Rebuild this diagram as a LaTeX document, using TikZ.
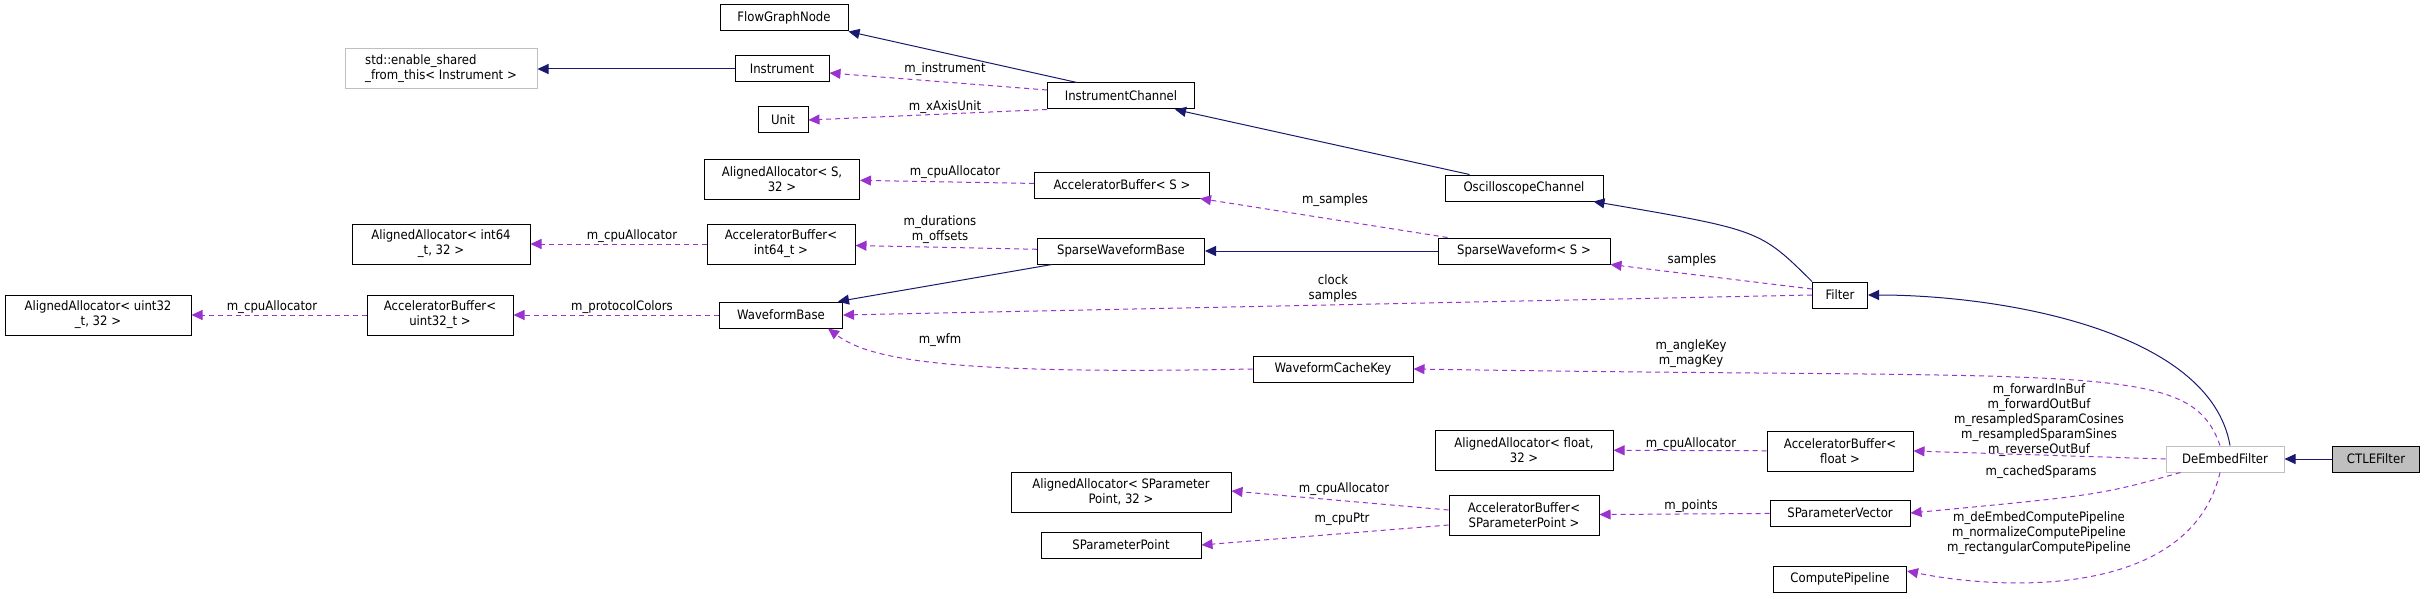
\documentclass[tikz,border=0pt]{standalone}
\usepackage{fontspec}
\setmainfont{DejaVu Sans Condensed}
\usetikzlibrary{arrows.meta}
\definecolor{inh}{HTML}{191970}
\definecolor{use}{HTML}{9A32CD}
\begin{document}
\begin{tikzpicture}[x=1pt,y=-1pt,
  every node/.style={font=\fontsize{13}{15}\selectfont},
  box/.style={draw=black,line width=1pt,fill=white,inner sep=0pt,minimum height=26pt,align=center},
  gbox/.style={box,draw=black!25},
  inhe/.style={draw=inh,line width=1pt,-{Triangle[length=11pt,width=10pt]}},
  usee/.style={draw=use,line width=1pt,dash pattern=on 5pt off 4pt,-{Triangle[length=11pt,width=10pt]}},
  lab/.style={align=center,inner sep=0pt}]
\useasboundingbox (0,0) rectangle (2425,599);
\node[box,minimum width=128pt] (fgn) at (784,18) {FlowGraphNode};
\node[gbox,minimum width=192pt,minimum height=40pt,align=left] (esf) at (441,69) {std::enable\_shared\\\_from\_this< Instrument >};
\node[box,minimum width=94pt] (ins) at (782,69) {Instrument};
\node[box,minimum width=50pt] (unit) at (783,120) {Unit};
\node[box,minimum width=147pt] (ich) at (1121,96) {InstrumentChannel};
\node[box,minimum width=158pt] (och) at (1524,188) {OscilloscopeChannel};
\node[box,minimum width=155pt,minimum height=40pt] (aas) at (782,179) {AlignedAllocator< S,\\32 >};
\node[box,minimum width=175pt] (abs) at (1122,185) {AcceleratorBuffer< S >};
\node[box,minimum width=178pt,minimum height=40pt] (aai) at (441,244) {AlignedAllocator< int64\\\_t, 32 >};
\node[box,minimum width=148pt,minimum height=40pt] (abi) at (781,244) {AcceleratorBuffer<\\int64\_t >};
\node[box,minimum width=167pt] (swb) at (1121,251) {SparseWaveformBase};
\node[box,minimum width=172pt] (sw) at (1524,251) {SparseWaveform< S >};
\node[box,minimum width=55pt] (flt) at (1840,295) {Filter};
\node[box,minimum width=186pt,minimum height=40pt] (aau) at (98,315) {AlignedAllocator< uint32\\\_t, 32 >};
\node[box,minimum width=146pt,minimum height=40pt] (abu) at (440,315) {AcceleratorBuffer<\\uint32\_t >};
\node[box,minimum width=123pt] (wb) at (781,315) {WaveformBase};
\node[box,minimum width=160pt] (wck) at (1333,369) {WaveformCacheKey};
\node[box,minimum width=178pt,minimum height=40pt] (aaf) at (1524,450) {AlignedAllocator< float,\\32 >};
\node[box,minimum width=146pt,minimum height=40pt] (abf) at (1840,451) {AcceleratorBuffer<\\float >};
\node[gbox,minimum width=118pt] (def) at (2225,459) {DeEmbedFilter};
\node[box,fill=black!25,minimum width=87pt] (ctle) at (2376,459) {CTLEFilter};
\node[box,minimum width=220pt,minimum height=40pt] (aap) at (1121,492) {AlignedAllocator< SParameter\\Point, 32 >};
\node[box,minimum width=150pt,minimum height=40pt] (abp) at (1524,515) {AcceleratorBuffer<\\SParameterPoint >};
\node[box,minimum width=140pt] (spv) at (1840,513) {SParameterVector};
\node[box,minimum width=160pt] (spp) at (1121,545) {SParameterPoint};
\node[box,minimum width=133pt] (cp) at (1840,579) {ComputePipeline};
% inheritance
\draw[inhe] (ich.north west) ++(30,0) -- (fgn.south east);
\draw[inhe] (ins) -- (esf);
\draw[inhe] (och.north west) ++(25,0) -- ([xshift=-20pt]ich.south east);
\draw[inhe] (flt.north west) .. controls (1760,230) .. ([xshift=-10pt]och.south east);
\draw[inhe] (sw) -- (swb);
\draw[inhe] (swb.south west) ++(15,0) -- ([xshift=-5pt]wb.north east);
\draw[inhe] (def.north) ++(5,0) .. controls (2210,330) and (2000,295) .. (flt.east);
\draw[inhe] (ctle) -- (def);
% usage
\draw[usee] (ich.west) ++(0,-6) -- ([yshift=-4pt]ins.east);
\draw[usee] (ich.south west) -- (unit.east);
\draw[usee] (abs) -- (aas);
\draw[usee] (sw.north west) ++(10,0) -- ([xshift=-10pt]abs.south east);
\draw[usee] (abi) -- (aai);
\draw[usee] (swb) -- (abi);
\draw[usee] (abu) -- (aau);
\draw[usee] (wb) -- (abu);
\draw[usee] (flt.west) -- (wb.east);
\draw[usee] (flt.west) ++(0,-6) -- (sw.south east);
\draw[usee] (wck.west) .. controls (950,375) and (870,360) .. ([xshift=-15pt]wb.south east);
\draw[usee] (def.north) ++(-5,0) .. controls (2190,360) and (2100,380) .. (wck.east);
\draw[usee] (def.west) -- (abf.east);
\draw[usee] (abf) -- (aaf);
\draw[usee] (def.south west) ++(15,0) .. controls (2100,495) .. (spv.east);
\draw[usee] (spv) -- (abp);
\draw[usee] (abp.west) ++(0,-5) -- ([yshift=1pt]aap.east);
\draw[usee] (abp.west) ++(0,10) -- (spp.east);
\draw[usee] (def.south) ++(-5,0) .. controls (2190,600) and (2000,590) .. ([yshift=8pt]cp.east);
% labels
\node[lab] (l1) at (945,69) {m\_instrument};
\node[lab] (l2) at (945,107) {m\_xAxisUnit};
\node[lab] (l3) at (955,172) {m\_cpuAllocator};
\node[lab] (l4) at (940,230) {m\_durations\\m\_offsets};
\node[lab] (l5) at (632,236) {m\_cpuAllocator};
\node[lab] (l6) at (272,307) {m\_cpuAllocator};
\node[lab] (l7) at (622,307) {m\_protocolColors};
\node[lab] (l8) at (940,340) {m\_wfm};
\node[lab] (l9) at (1335,200) {m\_samples};
\node[lab] (l10) at (1692,260) {samples};
\node[lab] (l11) at (1333,288) {clock\\samples};
\node[lab] (l12) at (1691,354) {m\_angleKey\\m\_magKey};
\node[lab] (l13) at (2039,420) {m\_forwardInBuf\\m\_forwardOutBuf\\m\_resampledSparamCosines\\m\_resampledSparamSines\\m\_reverseOutBuf};
\node[lab] (l14) at (1691,444) {m\_cpuAllocator};
\node[lab] (l15) at (2041,472) {m\_cachedSparams};
\node[lab] (l16) at (1691,506) {m\_points};
\node[lab] (l17) at (1344,489) {m\_cpuAllocator};
\node[lab] (l18) at (1342,519) {m\_cpuPtr};
\node[lab] (l19) at (2039,533) {m\_deEmbedComputePipeline\\m\_normalizeComputePipeline\\m\_rectangularComputePipeline};
\end{tikzpicture}
\end{document}
